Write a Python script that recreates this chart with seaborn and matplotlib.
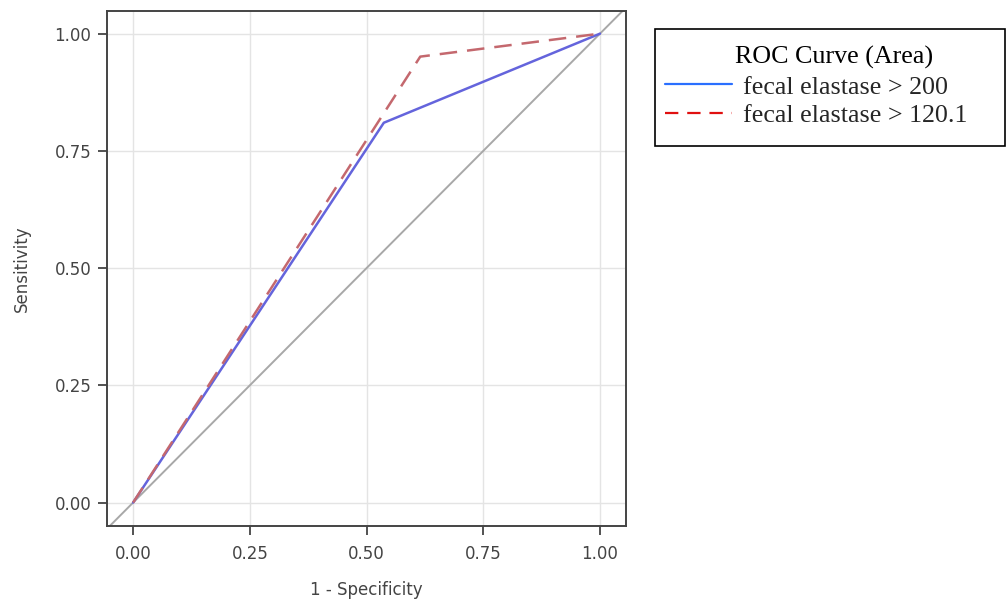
import matplotlib
matplotlib.use("Agg")
import matplotlib.pyplot as plt
from matplotlib.lines import Line2D
from matplotlib.patches import Rectangle
import seaborn as sns
import pandas as pd

# Data
fpr_200 = [0.0, 0.537, 1.0]
tpr_200 = [0.0, 0.810, 1.0]
fpr_120 = [0.0, 0.615, 1.0]
tpr_120 = [0.0, 0.951, 1.0]
ref_x = [-0.055, 1.055]
ref_y = [-0.055, 1.055]
series_names = ["fecal elastase > 200", "fecal elastase > 120.1"]
legend_title = "ROC Curve (Area)"
ticks = [0.0, 0.25, 0.5, 0.75, 1.0]
tick_labels = ["0.00", "0.25", "0.50", "0.75", "1.00"]

sns.set_style("white")
plt.rcParams['font.family'] = ['DejaVu Sans']

W, H = 1008, 603
fig = plt.figure(figsize=(W / 100, H / 100), dpi=100)
ax = fig.add_axes([0.1066, 0.1277, 0.5141, 0.8546])

df200 = pd.DataFrame({"x": fpr_200, "y": tpr_200})
df120 = pd.DataFrame({"x": fpr_120, "y": tpr_120})
dfref = pd.DataFrame({"x": ref_x, "y": ref_y})

sns.lineplot(data=dfref, x="x", y="y", ax=ax, color="#a8a8a8", lw=1.4,
             sort=False, estimator=None)
sns.lineplot(data=df200, x="x", y="y", ax=ax, color="#6464dc", lw=1.8,
             sort=False, estimator=None)
sns.lineplot(data=df120, x="x", y="y", ax=ax, color="#c4686e", lw=1.8,
             sort=False, estimator=None)
ax.lines[-1].set_dashes([7, 4])

ax.set_xlim(-0.055, 1.055)
ax.set_ylim(-0.05, 1.049)
ax.set_xticks(ticks)
ax.set_xticklabels(tick_labels)
ax.set_yticks(ticks)
ax.set_yticklabels(tick_labels)
ax.grid(True, color="#e4e4e4", lw=1.0)
ax.set_axisbelow(True)
for s in ax.spines.values():
    s.set_color("#444444")
    s.set_linewidth(1.4)
ax.tick_params(axis="both", direction="out", length=6.5, width=1.3,
               color="#444444", labelcolor="#444444", labelsize=12,
               bottom=True, left=True)
ax.tick_params(axis="x", pad=7)
ax.tick_params(axis="y", pad=5)
ax.set_xlabel("1 - Specificity", fontsize=12, color="#444444", labelpad=13)
ax.set_ylabel("Sensitivity", fontsize=12, color="#444444", labelpad=17)

# legend frame and title
fig.add_artist(Rectangle((655 / W, 1 - 146 / H), 350 / W, 117 / H,
                         transform=fig.transFigure, fill=False,
                         edgecolor="black", lw=1.2))
fig.text(834 / W, 1 - 57 / H, legend_title, ha="center", va="center",
         family="Liberation Serif", fontsize=18.7, color="black")

handles = [Line2D([], [], color="#2a6fff", lw=1.6),
           Line2D([], [], color="#e01010", lw=1.6, dashes=[6, 4])]
leg = fig.legend(handles, series_names,
                 loc="center left", bbox_to_anchor=(665 / W, 1 - 101 / H),
                 frameon=False, prop={"family": "Liberation Serif", "size": 18.7},
                 handlelength=2.57, handletextpad=0.42, borderaxespad=0,
                 borderpad=0, labelspacing=0.19)

fig.savefig("out.png", dpi=100)
